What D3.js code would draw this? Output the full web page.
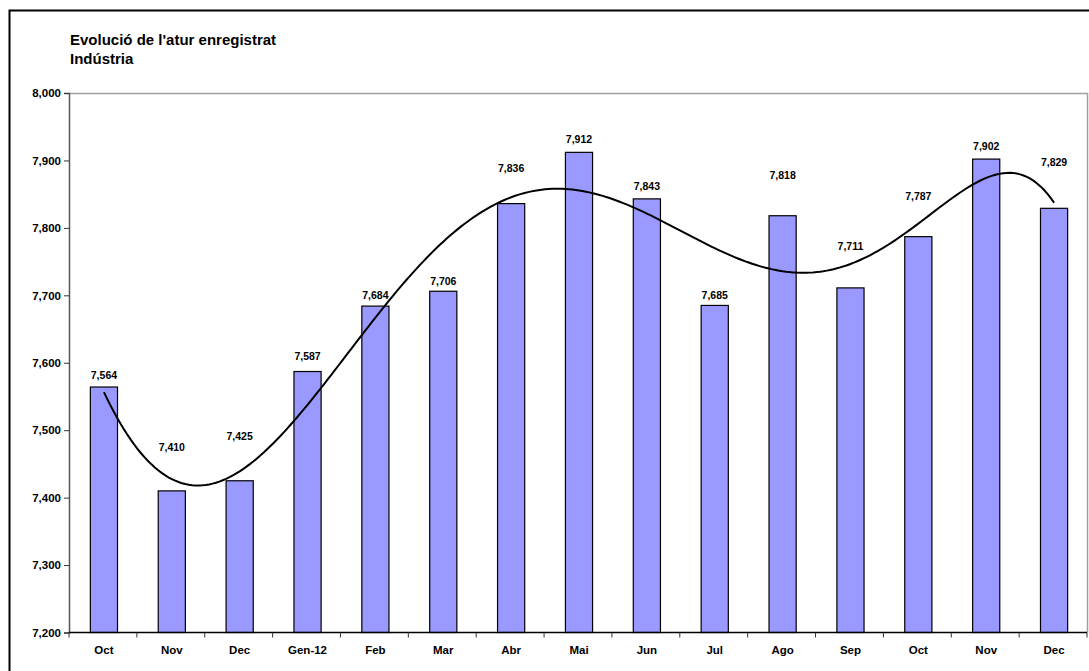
<!DOCTYPE html>
<html>
<head>
<meta charset="utf-8">
<script src="https://cdn.jsdelivr.net/npm/d3@7"></script>
<style>
  html, body { margin: 0; padding: 0; background: #fff; }
  svg { display: block; font-family: "Liberation Sans", Arial, sans-serif; }
</style>
</head>
<body>
<svg id="chart" width="1089" height="671"></svg>
<script>
// ---- data ----
const categories = ["Oct","Nov","Dec","Gen-12","Feb","Mar","Abr","Mai","Jun","Jul","Ago","Sep","Oct","Nov","Dec"];
const values = [7564,7410,7425,7587,7684,7706,7836,7912,7843,7685,7818,7711,7787,7902,7829];
const yTicks = [7200,7300,7400,7500,7600,7700,7800,7900,8000];
const titleLines = ["Evolució de l'atur enregistrat","Indústria"];
// label lift (px between bar top and label centre), labels were moved manually in the original
const labelLift = [12,44,44,15,11,10,35,13,13,10,40,42,40,13,46];

const svg = d3.select("#chart");
const W = 1089, H = 671;
const L = 69, R = 1087, T = 93, B = 632.5;

// outer frame (cropped)
svg.append("path").attr("d", `M9.5,${H+5} L9.5,10.5 L${W+5},10.5`)
  .attr("fill","none").attr("stroke","#000").attr("stroke-width",2);

// titles
svg.selectAll("text.title").data(titleLines).enter().append("text")
  .attr("x", 70).attr("y",(d,i)=>45 + i*19)
  .attr("font-size", 15).attr("font-weight","bold").attr("fill","#000")
  .text(d=>d);

const idx = d3.range(categories.length);
const x = d3.scaleBand().domain(idx).range([L,R]).paddingInner(0.6).paddingOuter(0.3);
const y = d3.scaleLinear().domain([7200,8000]).range([B,T]);

// plot area border (top, right) gray
svg.append("path").attr("d",`M${L},${T+0.5} L${R+0.5},${T+0.5} L${R+0.5},${B}`)
  .attr("fill","none").attr("stroke","#a0a0a0").attr("stroke-width",1.5);

// bars
svg.selectAll("rect.bar").data(values).enter().append("rect")
  .attr("x",(d,i)=>x(i)+1).attr("width",x.bandwidth())
  .attr("y",d=>y(d)).attr("height",d=>B-y(d))
  .attr("fill","#9999FF").attr("stroke","#000").attr("stroke-width",1.2);

// y axis
const yAxis = d3.axisLeft(y).tickValues(yTicks).tickSize(5).tickPadding(3)
  .tickFormat(d3.format(","));
const gy = svg.append("g").attr("transform",`translate(${L},0)`).call(yAxis);
gy.select(".domain").attr("stroke","#555").attr("stroke-width",1.5);
gy.selectAll(".tick line").attr("stroke","#333");
gy.selectAll(".tick text").attr("font-size",11.5).attr("font-weight","bold")
  .attr("font-family","Liberation Sans, Arial, sans-serif").attr("fill","#000");

// x axis
const gx = svg.append("g").attr("transform",`translate(0,${B})`);
gx.append("line").attr("x1",L).attr("x2",R).attr("stroke","#000").attr("stroke-width",1.5);
const step = x.step();
const bounds = d3.range(categories.length+1).map(i => L + i*(R-L)/categories.length);
gx.selectAll("line.tk").data(bounds).enter().append("line")
  .attr("x1",d=>d).attr("x2",d=>d).attr("y1",0).attr("y2",5)
  .attr("stroke","#333").attr("stroke-width",1);
gx.selectAll("text.cat").data(categories).enter().append("text")
  .attr("x",(d,i)=>x(i)+x.bandwidth()/2+1).attr("y",21)
  .attr("text-anchor","middle").attr("font-size",11.5).attr("font-weight","bold")
  .text(d=>d);

// value labels
const fmt = d3.format(",");
svg.selectAll("text.val").data(values).enter().append("text")
  .attr("x",(d,i)=>x(i)+x.bandwidth()/2+1)
  .attr("y",(d,i)=>y(d)-labelLift[i])
  .attr("dy","0.35em")
  .attr("text-anchor","middle").attr("font-size",10.5).attr("font-weight","bold")
  .text(d=>fmt(d));

// polynomial trendline (least squares, order 6) computed from values
function polyfit(xs, ys, order){
  const n = order+1;
  const A = Array.from({length:n},()=>new Array(n+1).fill(0));
  for(let r=0;r<n;r++){
    for(let c=0;c<n;c++){
      let s=0; for(let k=0;k<xs.length;k++) s+=Math.pow(xs[k],r+c); A[r][c]=s;
    }
    let s=0; for(let k=0;k<xs.length;k++) s+=ys[k]*Math.pow(xs[k],r); A[r][n]=s;
  }
  for(let i=0;i<n;i++){
    let p=i; for(let r=i+1;r<n;r++) if(Math.abs(A[r][i])>Math.abs(A[p][i])) p=r;
    [A[i],A[p]]=[A[p],A[i]];
    for(let r=0;r<n;r++){ if(r===i) continue; const f=A[r][i]/A[i][i];
      for(let c=i;c<=n;c++) A[r][c]-=f*A[i][c]; }
  }
  return A.map((row,i)=>row[n]/row[i]);
}
const xs = idx.map(i=>(i+1)/8);
const coef = polyfit(xs, values, 6);
const pf = t => coef.reduce((s,c,k)=>s+c*Math.pow(t,k),0);
const samples = d3.range(0, categories.length-1+0.001, 0.05);
const line = d3.line()
  .x(t => x(0)+x.bandwidth()/2+1 + t*step)
  .y(t => y(pf((t+1)/8)))
  .curve(d3.curveLinear);
svg.append("path").datum(samples).attr("d",line)
  .attr("fill","none").attr("stroke","#000").attr("stroke-width",2);
</script>
</body>
</html>
